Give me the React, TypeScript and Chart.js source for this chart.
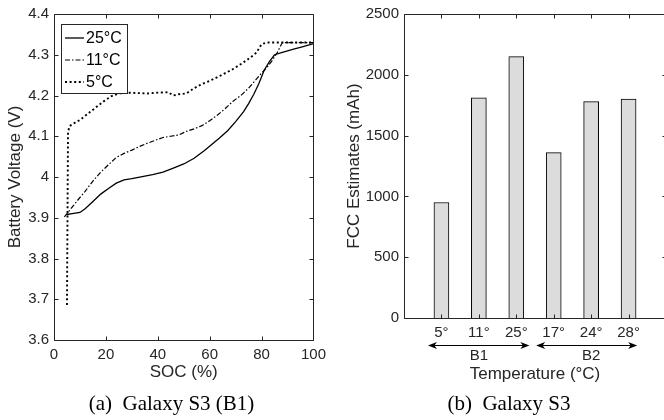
import React, { useEffect, useRef } from "react";
import { Chart, registerables } from "chart.js";

Chart.register(...registerables);

const FONT = "'Liberation Sans', Arial, Helvetica, sans-serif";
const SERIF = "'Liberation Serif', 'Times New Roman', serif";
const AXIS = "#262626";
const F15 = { family: FONT, size: 15 };
const F17 = { family: FONT, size: 17 };

// ---- (a) Battery voltage vs SOC ----
const seriesLabels = ["25°C", "11°C", "5°C"];

const soc25 = [5, 7, 10, 12, 15, 18, 21, 24, 27, 30, 34, 38, 42, 46, 50, 54, 58, 61, 64, 67, 70, 73, 75, 77, 79, 81, 83, 85, 88, 92, 96, 100];
const volt25 = [3.908, 3.91, 3.913, 3.922, 3.94, 3.958, 3.972, 3.985, 3.993, 3.996, 4.001, 4.006, 4.012, 4.022, 4.032, 4.046, 4.065, 4.081, 4.097, 4.114, 4.136, 4.16, 4.18, 4.203, 4.23, 4.262, 4.283, 4.3, 4.306, 4.313, 4.32, 4.327];

const soc11 = [4, 6, 9, 12, 15, 18, 21, 24, 27, 30, 33, 36, 39, 42, 45, 48, 51, 54, 57, 60, 63, 66, 69, 72, 75, 78, 80, 82, 84, 86, 88, 92, 96, 100];
const volt11 = [3.902, 3.918, 3.942, 3.965, 3.99, 4.012, 4.03, 4.048, 4.058, 4.066, 4.075, 4.083, 4.09, 4.097, 4.1, 4.103, 4.112, 4.118, 4.126, 4.138, 4.152, 4.168, 4.186, 4.2, 4.218, 4.24, 4.255, 4.268, 4.285, 4.305, 4.33, 4.33, 4.33, 4.33];

const soc5 = [5, 5.2, 5.4, 6, 8, 10, 13, 16, 19, 22, 25, 28, 32, 36, 40, 44, 46, 48, 51, 54, 57, 60, 63, 66, 69, 72, 75, 78, 80, 82, 84, 88, 92, 96, 100];
const volt5 = [3.686, 3.9, 4.11, 4.125, 4.133, 4.14, 4.155, 4.17, 4.185, 4.198, 4.205, 4.207, 4.206, 4.205, 4.207, 4.208, 4.2, 4.203, 4.205, 4.218, 4.228, 4.236, 4.245, 4.255, 4.265, 4.277, 4.29, 4.305, 4.326, 4.33, 4.33, 4.33, 4.33, 4.33, 4.33];

// ---- (b) FCC estimates ----
const tempLabels = ["5°", "11°", "25°", "17°", "24°", "28°"];
const fccValues = [950, 1810, 2150, 1360, 1780, 1800];
const batteryGroups = ["B1", "B2"];
const groupOfBar = [0, 0, 0, 1, 1, 1];

const toPoints = (xs: number[], ys: number[]) => xs.map((x, i) => ({ x, y: ys[i] }));

const boxPlugin = {
  id: "boxTicks",
  afterDatasetsDraw(chart: any) {
    const { ctx, chartArea: a, scales } = chart;
    const L = Math.round(a.left) + 0.5;
    const R = Math.round(a.right) + 0.5;
    const T = Math.round(a.top) + 0.5;
    const B = Math.round(a.bottom) + 0.5;
    const tl = 4;
    ctx.save();
    ctx.strokeStyle = AXIS;
    ctx.lineWidth = 1;
    ctx.setLineDash([]);
    ctx.beginPath();
    ctx.rect(L, T, R - L, B - T);
    scales.x.ticks.forEach((t: any) => {
      const px = Math.round(scales.x.getPixelForValue(t.value)) + 0.5;
      ctx.moveTo(px, B);
      ctx.lineTo(px, B - tl);
      ctx.moveTo(px, T);
      ctx.lineTo(px, T + tl);
    });
    scales.y.ticks.forEach((t: any) => {
      const py = Math.round(scales.y.getPixelForValue(t.value)) + 0.5;
      ctx.moveTo(L, py);
      ctx.lineTo(L + tl, py);
      ctx.moveTo(R, py);
      ctx.lineTo(R - tl, py);
    });
    ctx.stroke();
    ctx.restore();
  },
};

const legendPlugin = {
  id: "boxLegend",
  afterDraw(chart: any) {
    const { ctx, chartArea: a } = chart;
    const x0 = Math.round(a.left) + 7;
    const y0 = Math.round(a.top) + 10;
    const w = 66;
    const h = 69;
    ctx.save();
    ctx.fillStyle = "#fff";
    ctx.fillRect(x0, y0, w, h);
    ctx.strokeStyle = AXIS;
    ctx.lineWidth = 1;
    ctx.strokeRect(x0 + 0.5, y0 + 0.5, w, h);
    chart.data.datasets.forEach((ds: any, i: number) => {
      const y = y0 + 14 + i * 22;
      ctx.beginPath();
      ctx.setLineDash(ds.borderDash || []);
      ctx.lineWidth = ds.borderWidth;
      ctx.strokeStyle = ds.borderColor;
      ctx.moveTo(x0 + 4, y);
      ctx.lineTo(x0 + 23, y);
      ctx.stroke();
      ctx.setLineDash([]);
      ctx.fillStyle = "#000";
      ctx.font = `16px ${FONT}`;
      ctx.textBaseline = "middle";
      ctx.textAlign = "left";
      ctx.fillText(ds.label, x0 + 25, y + 1);
    });
    ctx.restore();
  },
};

const groupPlugin = {
  id: "groups",
  afterDraw(chart: any, _args: any, opts: any) {
    const { ctx, chartArea: a, scales } = chart;
    const x = scales.x;
    const yArrow = Math.round(a.bottom + 27) + 0.5;
    const yLabel = a.bottom + 38;
    ctx.save();
    ctx.strokeStyle = "#000";
    ctx.fillStyle = "#000";
    ctx.lineWidth = 1;
    batteryGroups.forEach((g, gi) => {
      const members = groupOfBar.map((v, i) => (v === gi ? i + 1 : -1)).filter((v) => v > 0);
      const first = members[0];
      const last = members[members.length - 1];
      const span = opts.spans[gi];
      const x1 = x.getPixelForValue(first - span[0]);
      const x2 = x.getPixelForValue(last + span[1]);
      ctx.beginPath();
      ctx.moveTo(x1 + 3, yArrow);
      ctx.lineTo(x2 - 3, yArrow);
      ctx.stroke();
      const head = 9;
      const hw = 3.5;
      ctx.beginPath();
      ctx.moveTo(x1, yArrow);
      ctx.lineTo(x1 + head, yArrow - hw);
      ctx.lineTo(x1 + head - 2.5, yArrow);
      ctx.lineTo(x1 + head, yArrow + hw);
      ctx.closePath();
      ctx.fill();
      ctx.beginPath();
      ctx.moveTo(x2, yArrow);
      ctx.lineTo(x2 - head, yArrow - hw);
      ctx.lineTo(x2 - head + 2.5, yArrow);
      ctx.lineTo(x2 - head, yArrow + hw);
      ctx.closePath();
      ctx.fill();
      ctx.font = `15px ${FONT}`;
      ctx.textAlign = "center";
      ctx.textBaseline = "middle";
      ctx.fillStyle = AXIS;
      ctx.fillText(g, x.getPixelForValue((first + last) / 2), yLabel);
      ctx.fillStyle = "#000";
    });
    ctx.restore();
  },
};

Chart.defaults.font.family = FONT;
Chart.defaults.font.size = 15;
Chart.defaults.color = AXIS;

const plainGrid = { display: false, drawTicks: false, tickLength: 0 };

function voltageConfig(): any {
  const styles = [
    { borderDash: [] as number[], borderWidth: 1.3 },
    { borderDash: [5, 2, 1.5, 2], borderWidth: 1.2 },
    { borderDash: [2, 2.6], borderWidth: 1.9 },
  ];
  const xs = [soc25, soc11, soc5];
  const ys = [volt25, volt11, volt5];
  return {
    type: "scatter",
    data: {
      datasets: seriesLabels.map((label, i) => ({
        label,
        data: toPoints(xs[i], ys[i]),
        showLine: true,
        borderColor: "#000",
        backgroundColor: "#000",
        pointRadius: 0,
        tension: 0,
        ...styles[i],
      })),
    },
    options: {
      animation: false,
      responsive: false,
      devicePixelRatio: 1,
      layout: { padding: { top: 13, right: 11, left: 0, bottom: 0 } },
      plugins: { legend: { display: false }, tooltip: { enabled: false } },
      scales: {
        x: {
          type: "linear",
          min: 0,
          max: 100,
          grid: plainGrid,
          border: { display: false },
          ticks: { stepSize: 20, padding: 6, maxRotation: 0, color: AXIS, font: F15, callback: (v: number) => String(v) },
          title: { display: true, text: "SOC (%)", color: AXIS, font: F17, padding: { top: 0, bottom: 9 } },
          afterFit: (s: any) => {
            s.height = 52;
          },
        },
        y: {
          type: "linear",
          min: 3.6,
          max: 4.4,
          grid: plainGrid,
          border: { display: false },
          ticks: {
            stepSize: 0.1,
            padding: 5,
            color: AXIS,
            font: F15,
            callback: (v: number) => String(Math.round(v * 10) / 10),
          },
          title: { display: true, text: "Battery Voltage (V)", color: AXIS, font: F17, padding: { top: 5.5, bottom: 0 } },
          afterFit: (s: any) => {
            s.width = 54;
          },
        },
      },
    },
    plugins: [boxPlugin, legendPlugin],
  };
}

function fccConfig(): any {
  return {
    type: "bar",
    data: {
      datasets: [
        {
          label: "FCC",
          data: fccValues.map((v, i) => ({ x: i + 1, y: v })),
          backgroundColor: "#dcdcdc",
          borderColor: "#000",
          borderWidth: 1,
          borderSkipped: "bottom",
          barThickness: 15,
        },
      ],
    },
    options: {
      animation: false,
      responsive: false,
      devicePixelRatio: 1,
      layout: { padding: { top: 13, right: 5, left: 0, bottom: 0 } },
      plugins: {
        legend: { display: false },
        tooltip: { enabled: false },
        groups: { spans: [[0.36, 0.35], [0.47, 0.23]] },
      },
      scales: {
        x: {
          type: "linear",
          min: 0,
          max: 7,
          offset: false,
          grid: plainGrid,
          border: { display: false },
          ticks: {
            stepSize: 1,
            autoSkip: false,
            maxRotation: 0,
            padding: 6,
            color: AXIS,
            font: F15,
            callback: (v: number) => (v >= 1 && v <= tempLabels.length ? tempLabels[v - 1] : ""),
          },
          title: { display: true, text: "Temperature (°C)", color: AXIS, font: F17, padding: { top: 0, bottom: 7 } },
          afterFit: (s: any) => {
            s.height = 74;
          },
        },
        y: {
          type: "linear",
          min: 0,
          max: 2500,
          grid: plainGrid,
          border: { display: false },
          ticks: { stepSize: 500, padding: 5, color: AXIS, font: F15, callback: (v: number) => String(v) },
          title: { display: true, text: "FCC Estimates (mAh)", color: AXIS, font: F17, padding: { top: 12, bottom: 0 } },
          afterFit: (s: any) => {
            s.width = 72;
          },
        },
      },
    },
    plugins: [boxPlugin, groupPlugin],
  };
}

function ChartCanvas(props: { make: () => any; left: number; width: number; height: number }) {
  const ref = useRef<HTMLCanvasElement>(null);
  useEffect(() => {
    const chart = new Chart(ref.current as HTMLCanvasElement, props.make());
    return () => chart.destroy();
  }, []);
  return (
    <canvas
      ref={ref}
      width={props.width}
      height={props.height}
      style={{ position: "absolute", left: props.left, top: 0, width: props.width, height: props.height }}
    />
  );
}

export default function App() {
  const cap: React.CSSProperties = {
    position: "absolute",
    top: 392,
    height: 22,
    lineHeight: "22px",
    fontFamily: SERIF,
    fontSize: 21,
    color: "#000",
    textAlign: "center",
    whiteSpace: "pre",
  };
  return (
    <div
      style={{
        position: "absolute",
        left: 0,
        top: 0,
        width: 664,
        height: 420,
        overflow: "hidden",
        background: "#fff",
      }}
    >
      <ChartCanvas make={voltageConfig} left={0} width={332} height={392} />
      <ChartCanvas make={fccConfig} left={332} width={340} height={392} />
      <div style={{ ...cap, left: 0, width: 343 }}>{"(a)  Galaxy S3 (B1)"}</div>
      <div style={{ ...cap, left: 409, width: 200 }}>{"(b)  Galaxy S3"}</div>
    </div>
  );
}
